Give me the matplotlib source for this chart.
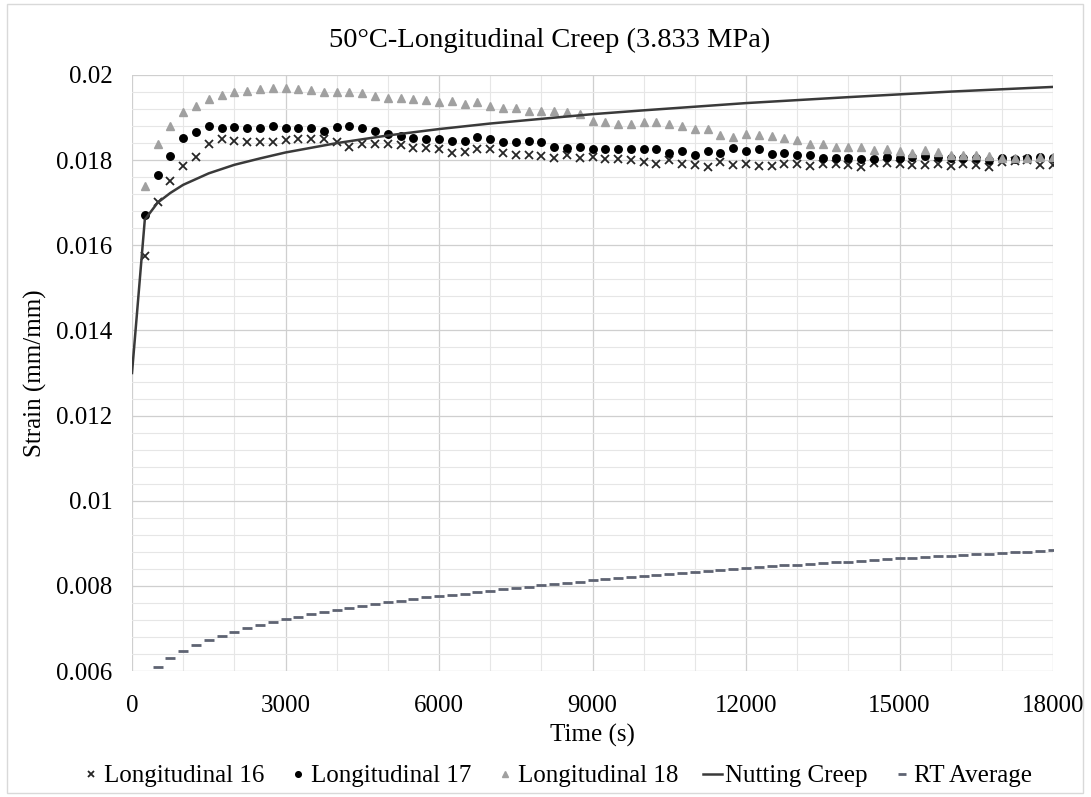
import numpy as np
import matplotlib
matplotlib.use("Agg")
import matplotlib.pyplot as plt
from matplotlib.ticker import MultipleLocator, FuncFormatter
from matplotlib.patches import Rectangle

# ---- data -------------------------------------------------------------
time_s = np.arange(250, 18001, 250)          # sampling times of the creep tests

long16 = [0.01575, 0.01702, 0.01751, 0.01786, 0.01808, 0.01839, 0.01849, 0.01846,
          0.01843, 0.01843, 0.01843, 0.01847, 0.01849, 0.01849, 0.01849, 0.01842,
          0.01831, 0.01837, 0.01839, 0.01837, 0.01835, 0.01828, 0.01829, 0.01825,
          0.01817, 0.01818, 0.01826, 0.01826, 0.01816, 0.01813, 0.01813, 0.01810,
          0.01804, 0.01813, 0.01806, 0.01808, 0.01802, 0.01802, 0.01800, 0.01796,
          0.01790, 0.01800, 0.01790, 0.01788, 0.01784, 0.01795, 0.01788, 0.01790,
          0.01786, 0.01787, 0.01792, 0.01791, 0.01787, 0.01792, 0.01790, 0.01788,
          0.01784, 0.01794, 0.01794, 0.01792, 0.01788, 0.01788, 0.01790, 0.01787,
          0.01790, 0.01788, 0.01784, 0.01796, 0.01798, 0.01800, 0.01788, 0.01788]

long17 = [0.01671, 0.01766, 0.01810, 0.01853, 0.01867, 0.01881, 0.01876, 0.01878,
          0.01876, 0.01875, 0.01881, 0.01876, 0.01876, 0.01876, 0.01869, 0.01877,
          0.01880, 0.01875, 0.01869, 0.01861, 0.01857, 0.01853, 0.01849, 0.01849,
          0.01845, 0.01845, 0.01855, 0.01849, 0.01842, 0.01842, 0.01846, 0.01842,
          0.01831, 0.01828, 0.01830, 0.01826, 0.01825, 0.01825, 0.01826, 0.01826,
          0.01826, 0.01817, 0.01822, 0.01813, 0.01822, 0.01817, 0.01829, 0.01821,
          0.01826, 0.01814, 0.01816, 0.01812, 0.01812, 0.01806, 0.01804, 0.01806,
          0.01802, 0.01802, 0.01808, 0.01804, 0.01808, 0.01810, 0.01808, 0.01804,
          0.01804, 0.01804, 0.01800, 0.01804, 0.01802, 0.01804, 0.01808, 0.01806]

long18 = [0.01740, 0.01837, 0.01881, 0.01912, 0.01928, 0.01944, 0.01953, 0.01961,
          0.01963, 0.01966, 0.01970, 0.01970, 0.01967, 0.01965, 0.01961, 0.01961,
          0.01961, 0.01957, 0.01951, 0.01947, 0.01947, 0.01943, 0.01941, 0.01937,
          0.01939, 0.01933, 0.01936, 0.01928, 0.01923, 0.01922, 0.01916, 0.01916,
          0.01916, 0.01912, 0.01908, 0.01893, 0.01890, 0.01885, 0.01885, 0.01889,
          0.01889, 0.01886, 0.01881, 0.01873, 0.01872, 0.01860, 0.01855, 0.01861,
          0.01860, 0.01857, 0.01853, 0.01847, 0.01839, 0.01837, 0.01830, 0.01831,
          0.01831, 0.01824, 0.01825, 0.01822, 0.01816, 0.01824, 0.01820, 0.01813,
          0.01813, 0.01813, 0.01810, 0.01806, 0.01804, 0.01806, 0.01808, 0.01808]

nutting_t = [0, 250, 500, 750, 1000, 1500, 2000, 2500, 3000, 4000, 5000, 6000,
             7000, 8000, 9000, 10000, 12000, 14000, 16000, 18000]
nutting_strain = [0.01300, 0.01660, 0.01700, 0.01723, 0.01742, 0.01769, 0.01789,
                  0.01804, 0.01818, 0.01840, 0.01858, 0.01873, 0.01886, 0.01897,
                  0.01908, 0.01917, 0.01934, 0.01948, 0.01961, 0.01972]

rt_t = np.arange(500, 18001, 250)
rt_avg = [0.00610, 0.00631, 0.00647, 0.00660, 0.00672, 0.00683, 0.00692, 0.00700,
          0.00708, 0.00716, 0.00722, 0.00728, 0.00733, 0.00738, 0.00743, 0.00748,
          0.00753, 0.00757, 0.00761, 0.00765, 0.00769, 0.00773, 0.00776, 0.00779,
          0.00782, 0.00786, 0.00789, 0.00792, 0.00795, 0.00798, 0.00801, 0.00804,
          0.00807, 0.00810, 0.00813, 0.00816, 0.00818, 0.00821, 0.00823, 0.00826,
          0.00828, 0.00830, 0.00833, 0.00835, 0.00837, 0.00840, 0.00842, 0.00844,
          0.00846, 0.00848, 0.00850, 0.00852, 0.00854, 0.00856, 0.00857, 0.00859,
          0.00861, 0.00863, 0.00865, 0.00866, 0.00868, 0.00870, 0.00871, 0.00873,
          0.00874, 0.00876, 0.00877, 0.00879, 0.00880, 0.00882, 0.00884]

x_ticks = [0, 3000, 6000, 9000, 12000, 15000, 18000]
y_ticks = [0.006, 0.008, 0.01, 0.012, 0.014, 0.016, 0.018, 0.02]

# ---- figure -----------------------------------------------------------
plt.rcParams["font.family"] = ["Liberation Serif", "DejaVu Serif"]
W, H = 1091, 797
fig = plt.figure(figsize=(W / 100, H / 100), dpi=100)
ax = fig.add_axes([132 / W, 1 - 671 / H, (1053 - 132) / W, (671 - 75) / H])

# chart border
fig.patches.append(Rectangle((7 / W, 4 / H), (1083 - 7) / W, (793 - 4) / H,
                             transform=fig.transFigure, fill=False,
                             edgecolor="#D9D9D9", linewidth=1.0))

ax.plot(time_s, long16, linestyle="none", marker="x", markersize=5.6,
        markeredgewidth=1.3, color="#262626", label="Longitudinal 16", zorder=3)
ax.plot(time_s, long17, linestyle="none", marker="o", markersize=5.4,
        color="#000000", label="Longitudinal 17", zorder=4)
ax.plot(time_s, long18, linestyle="none", marker="^", markersize=5.8,
        color="#A0A0A0", label="Longitudinal 18", zorder=5)
ax.plot(nutting_t, nutting_strain, color="#3A3A3A", linewidth=1.8,
        label="Nutting Creep", zorder=6)
ax.plot(rt_t, rt_avg, linestyle="none", marker="_", markersize=7.5,
        markeredgewidth=2.0, color="#5E6372", label="RT Average", zorder=3)

ax.set_xlim(0, 18000)
ax.set_ylim(0.006, 0.02)
ax.set_xticks(x_ticks)
ax.set_yticks(y_ticks)
ax.xaxis.set_minor_locator(MultipleLocator(1000))
ax.yaxis.set_minor_locator(MultipleLocator(0.0004))
ax.yaxis.set_major_formatter(FuncFormatter(lambda v, p: f"{v:g}"))

ax.grid(which="major", color="#CFCFCF", linewidth=0.9, zorder=0)
ax.grid(which="minor", color="#E6E6E6", linewidth=0.8, zorder=0)
ax.set_axisbelow(True)
for s in ax.spines.values():
    s.set_visible(False)
ax.tick_params(which="both", length=0)
ax.tick_params(axis="x", labelsize=18, pad=17)
ax.tick_params(axis="y", labelsize=18, pad=14)

fig.text(0.504, 1 - 40 / H, "50°C-Longitudinal Creep (3.833 MPa)",
         ha="center", va="center", fontsize=20.5)
ax.set_xlabel("Time (s)", fontsize=18, labelpad=5)
ax.set_ylabel("Strain (mm/mm)", fontsize=18, labelpad=7)

leg = fig.legend(loc="center", bbox_to_anchor=(557 / W, 1 - 776 / H), ncol=5,
                 frameon=False, fontsize=18, handlelength=0.75,
                 handletextpad=0.12, columnspacing=1.0, markerscale=0.75)

fig.savefig("out.png", dpi=100)
